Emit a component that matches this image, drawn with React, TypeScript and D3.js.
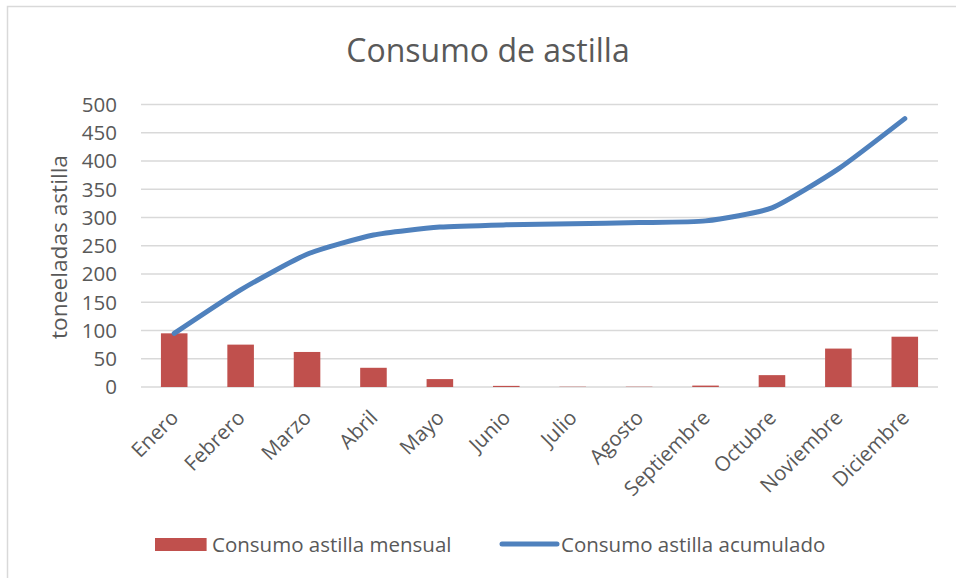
import React from "react";
import * as d3 from "d3";

const months = ["Enero", "Febrero", "Marzo", "Abril", "Mayo", "Junio", "Julio", "Agosto", "Septiembre", "Octubre", "Noviembre", "Diciembre"];
const monthly = [95, 75, 62, 34, 14, 2, 0.5, 0.5, 2.5, 21, 68, 89];
const cumulative = [95, 172, 235, 269, 283, 287, 289, 291, 294, 317, 386, 475];
const yTicks = [0, 50, 100, 150, 200, 250, 300, 350, 400, 450, 500];

const W = 956;
const H = 578;
const FONT = "'Open Sans', sans-serif";
const TXT = "#595959";

export default function App() {
  const x = d3.scaleBand<string>().domain(months).range([141, 938]).paddingInner(0).paddingOuter(0);
  const y = d3.scaleLinear().domain([0, 500]).range([387, 104.5]);
  const bw = x.bandwidth() * 0.4;
  const cx = (m: string) => (x(m) as number) + x.bandwidth() / 2;
  const line = d3
    .line<number>()
    .x((_, i) => cx(months[i]))
    .y((d) => y(d))
    .curve(d3.curveCardinal.tension(0.45));

  return (
    <svg width={W} height={H} style={{ position: "absolute", left: 0, top: 0, background: "#fff" }} fontFamily={FONT}>
      <rect x={7.5} y={6.5} width={1000} height={1000} fill="#fff" stroke="#D9D9D9" strokeWidth={1.5} />
      <text x={488} y={62} textAnchor="middle" fontSize={32} fill={TXT}>
        Consumo de astilla
      </text>
      {yTicks.map((t) => (
        <g key={t}>
          <line x1={141} x2={938} y1={y(t)} y2={y(t)} stroke="#D9D9D9" strokeWidth={1.5} />
          <text x={117} y={y(t)} dy="0.36em" textAnchor="end" fontSize={20.5} fill={TXT}>
            {t}
          </text>
        </g>
      ))}
      <text transform={`translate(${67},${247}) rotate(-90)`} textAnchor="middle" fontSize={22.7} fill={TXT}>
        toneeladas astilla
      </text>
      {months.map((m, i) => (
        <rect key={m} x={cx(m) - bw / 2} y={y(monthly[i])} width={bw} height={y(0) - y(monthly[i])} fill="#C0504D" />
      ))}
      <path d={line(cumulative) || ""} fill="none" stroke="#4F81BD" strokeWidth={5} strokeLinecap="round" strokeLinejoin="round" />
      {months.map((m) => (
        <text key={m} transform={`translate(${cx(m) + 5.5},${419}) rotate(-45)`} textAnchor="end" fontSize={20.5} fill={TXT}>
          {m}
        </text>
      ))}
      <rect x={155} y={538} width={51.6} height={13} fill="#C0504D" />
      <text x={212} y={552} fontSize={20.5} fill={TXT}>
        Consumo astilla mensual
      </text>
      <line x1={502} x2={557} y1={544} y2={544} stroke="#4F81BD" strokeWidth={5} strokeLinecap="round" />
      <text x={561} y={552} fontSize={20.5} fill={TXT}>
        Consumo astilla acumulado
      </text>
    </svg>
  );
}
